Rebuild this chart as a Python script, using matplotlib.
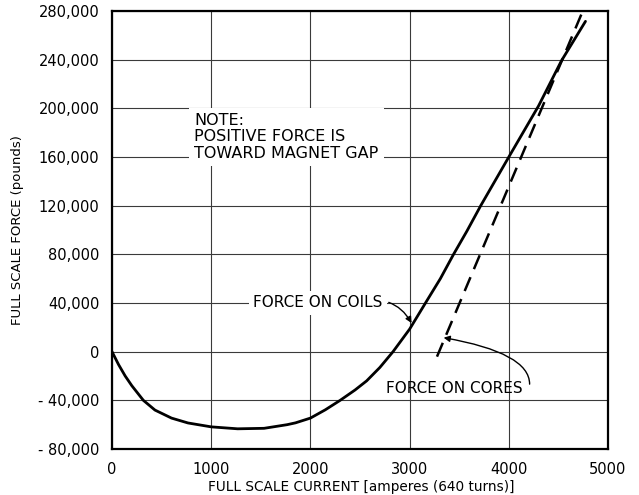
import matplotlib
matplotlib.use("Agg")
import matplotlib.pyplot as plt

# Force on coils (current in amperes, force in pounds)
coil_current = [0, 66, 133, 200, 316, 433, 600, 766, 1000, 1266, 1533, 1766, 1850,
                2000, 2150, 2300, 2450, 2567, 2700, 2833, 3000, 3160, 3310, 3443,
                3577, 3717, 4000, 4300, 4530, 4773]
coil_force = [0, -10600, -20000, -28000, -40000, -48000, -54600, -58600, -61800,
              -63400, -63000, -60000, -58500, -54600, -47800, -40000, -31500, -24000,
              -13000, 0, 18500, 40000, 60000, 80000, 99000, 120000, 160000,
              202000, 239000, 271500]

# Force on cores (straight dashed line)
core_current = [3276, 4738]
core_force = [-4100, 278500]

x_ticks = [0, 1000, 2000, 3000, 4000, 5000]
x_tick_labels = ["0", "1000", "2000", "3000", "4000", "5000"]
y_ticks = [-80000, -40000, 0, 40000, 80000, 120000, 160000, 200000, 240000, 280000]
y_tick_labels = ["- 80,000", "- 40,000", "0", "40,000", "80,000", "120,000",
                 "160,000", "200,000", "240,000", "280,000"]

fig = plt.figure(figsize=(6.39, 4.95), dpi=100)
ax = fig.add_axes([112/639, 1-449/495, (608-112)/639, (449-11)/495])

ax.set_xlim(0, 5000)
ax.set_ylim(-80000, 280000)
ax.set_xticks(x_ticks)
ax.set_xticklabels(x_tick_labels, fontsize=10.5)
ax.set_yticks(y_ticks)
ax.set_yticklabels(y_tick_labels, fontsize=10.5)
ax.tick_params(length=0, pad=9)
ax.grid(True, color="#3a3a3a", linewidth=0.8)
ax.set_axisbelow(True)
for s in ax.spines.values():
    s.set_linewidth(1.6)
    s.set_color("black")

ax.plot(coil_current, coil_force, color="black", lw=2.0, solid_capstyle="round",
        solid_joinstyle="round", zorder=3)
ax.plot(core_current, core_force, color="black", lw=1.8, dashes=(6, 3.5), zorder=3)

ax.text(828, 196000, "NOTE:\nPOSITIVE FORCE IS\nTOWARD MAGNET GAP", fontsize=11.5,
        ha="left", va="top", linespacing=1.1,
        bbox=dict(facecolor="white", edgecolor="none", pad=4), zorder=4)

ax.text(2730, 40000, "FORCE ON COILS", fontsize=11, ha="right", va="center",
        bbox=dict(facecolor="white", edgecolor="none", pad=3), zorder=4)
ax.annotate("", xy=(3020, 23500), xytext=(2790, 40500),
            arrowprops=dict(arrowstyle="-|>", color="black", lw=1.0,
                            connectionstyle="angle3,angleA=-20,angleB=-60",
                            mutation_scale=9, shrinkA=0, shrinkB=0), zorder=5)

ax.text(3454, -30300, "FORCE ON CORES", fontsize=11, ha="center", va="center", zorder=4)
ax.annotate("", xy=(3343, 11500), xytext=(4210, -26700),
            arrowprops=dict(arrowstyle="-|>", color="black", lw=1.0,
                            connectionstyle="angle3,angleA=90,angleB=-10",
                            mutation_scale=9, shrinkA=0, shrinkB=0), zorder=5)

ax.set_ylabel("FULL SCALE FORCE (pounds)", fontsize=9.5, labelpad=10)
fig.text(361/639, 1-487/495,
         "FULL SCALE CURRENT [amperes (640 turns)]",
         fontsize=9.8, ha="center", va="center")

fig.savefig("out.png", dpi=100)
